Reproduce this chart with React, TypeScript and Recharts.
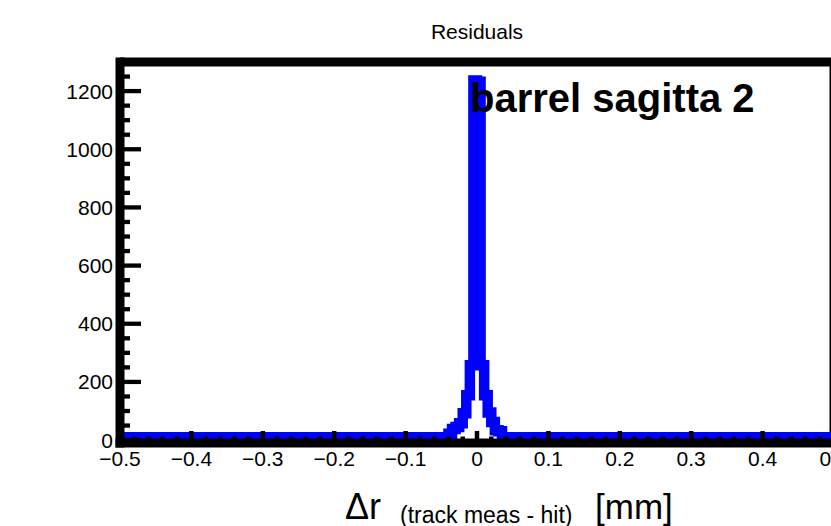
import { ComposedChart, Line, XAxis, YAxis, ReferenceLine } from 'recharts';

// histogram: low edge of each step (only where the height changes) and its count
const binEdges = [
  -0.5, -0.04, -0.035, -0.03, -0.025, -0.02, -0.015, -0.01, -0.005, 0,
  0.005, 0.01, 0.015, 0.02, 0.025, 0.03, 0.035, 0.5,
];
const binCounts = [10, 22, 38, 45, 58, 92, 154, 257, 1236, 1232, 257, 154, 95, 62, 34, 30, 10, 10];

const xMajorTicks = [-0.5, -0.4, -0.3, -0.2, -0.1, 0, 0.1, 0.2, 0.3, 0.4, 0.5];
const yMajorTicks = [0, 200, 400, 600, 800, 1000, 1200];
const xMinorDiv = 5;
const yMinorDiv = 4;

const data = binEdges.map((x, i) => ({ x, count: binCounts[i] }));

const round = (v: number) => Math.round(v * 10000) / 10000;

const subdivide = (majors: number[], div: number, upTo: number) => {
  const step = majors[1] - majors[0];
  const out: number[] = [];
  for (let m = 0; m < majors.length; m++) {
    for (let j = 0; j < div; j++) {
      const v = round(majors[m] + (j * step) / div);
      if (v <= upTo) out.push(v);
    }
  }
  return out;
};

const xTicks = subdivide(xMajorTicks, xMinorDiv, 0.5);
const yTicks = subdivide(yMajorTicks, yMinorDiv, 1250);

const FONT = '"Liberation Sans", Arial, Helvetica, sans-serif';

const fmtX = (v: number) => (v === 0 ? '0' : (v < 0 ? '\u2212' : '') + Math.abs(v).toFixed(1));

const XTick = (props: any) => {
  const { x, y, payload } = props;
  const v = round(payload.value);
  const major = xMajorTicks.includes(v);
  return (
    <g>
      <line x1={x} x2={x} y1={y} y2={y - (major ? 12 : 6.5)} stroke="#000" strokeWidth={4.5} />
      {major && (
        <text x={x} y={y + 23} textAnchor="middle" fontFamily={FONT} fontSize={21} fill="#000">
          {fmtX(v)}
        </text>
      )}
    </g>
  );
};

const YTick = (props: any) => {
  const { x, y, payload } = props;
  const v = round(payload.value);
  const major = yMajorTicks.includes(v);
  return (
    <g>
      <line x1={x} x2={x + (major ? 21 : 10)} y1={y} y2={y} stroke="#000" strokeWidth={4.3} />
      {major && (
        <text x={x - 7} y={y + 7.5} textAnchor="end" fontFamily={FONT} fontSize={21} fill="#000">
          {v}
        </text>
      )}
    </g>
  );
};

const frame = { stroke: '#000', strokeWidth: 9, strokeLinecap: 'square' as const };

export default function App() {
  return (
    <div style={{ position: 'fixed', left: 0, top: 0, width: 831, height: 526, overflow: 'hidden', background: '#fff' }}>
      <ComposedChart width={870} height={526} data={data} margin={{ top: 62, right: 36, bottom: 43, left: 60 }}>
        <ReferenceLine y={1300} stroke="#000" strokeWidth={9} />
        <ReferenceLine x={0.5} stroke="#000" strokeWidth={9} />
        <Line
          dataKey="count"
          type="stepAfter"
          stroke="#0000ff"
          strokeWidth={10.5}
          dot={false}
          activeDot={false}
          isAnimationActive={false}
        />
        <XAxis
          dataKey="x"
          type="number"
          domain={[-0.5, 0.5]}
          allowDataOverflow
          ticks={xTicks}
          interval={0}
          height={40}
          tickSize={0}
          tickMargin={0}
          tickLine={false}
          axisLine={frame}
          tick={<XTick />}
        />
        <YAxis
          type="number"
          domain={[-10, 1300]}
          allowDataOverflow
          ticks={yTicks}
          interval={0}
          width={60}
          tickSize={0}
          tickMargin={0}
          tickLine={false}
          axisLine={frame}
          tick={<YTick />}
        />
      </ComposedChart>
      <svg width={831} height={526} style={{ position: 'absolute', left: 0, top: 0, pointerEvents: 'none' }}>
        <text x={477} y={39} textAnchor="middle" fontFamily={FONT} fontSize={21} fill="#000">
          Residuals
        </text>
        <text x={470} y={112} fontFamily={FONT} fontSize={40} fontWeight="bold" fill="#000">
          barrel sagitta 2
        </text>
        <text fontFamily={FONT} fill="#000">
          <tspan x={345} y={519} fontSize={36}>Δr</tspan>
          <tspan x={400} y={523} fontSize={23}>(track meas - hit)</tspan>
          <tspan x={595} y={519} fontSize={35}>[mm]</tspan>
        </text>
      </svg>
    </div>
  );
}
